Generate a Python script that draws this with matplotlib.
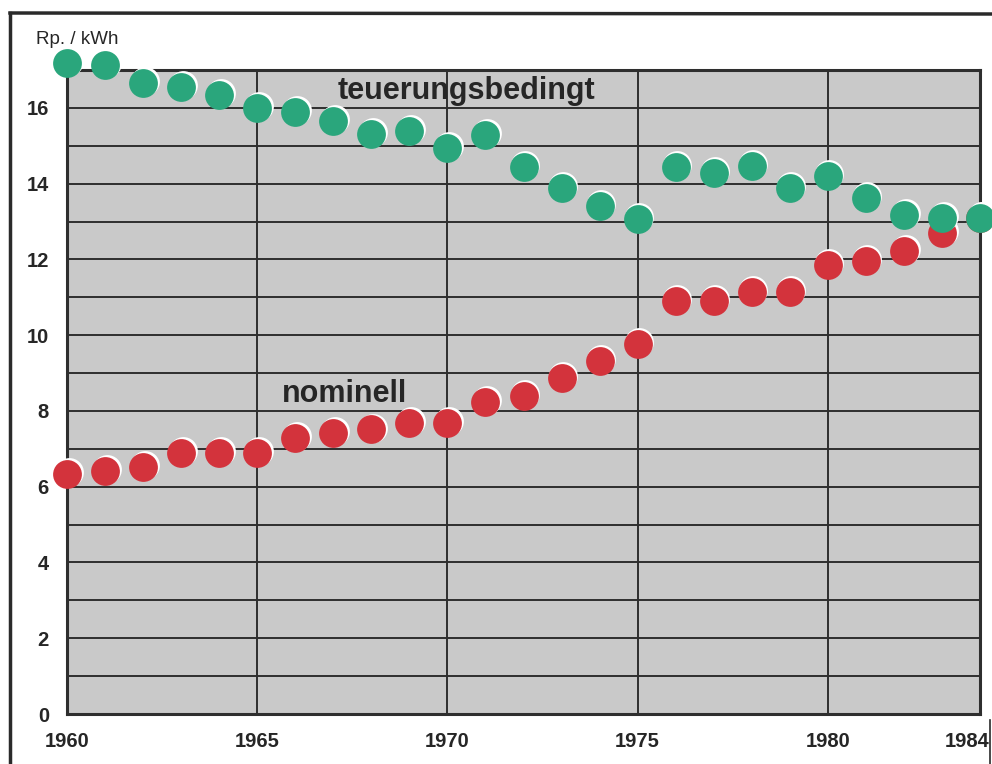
import matplotlib
matplotlib.use("Agg")
import matplotlib.pyplot as plt
import matplotlib.transforms as mtransforms
from matplotlib.lines import Line2D

years = list(range(1960, 1985))
teuerungsbedingt = [17.19, 17.13, 16.66, 16.55, 16.34, 16.00, 15.89, 15.66, 15.31, 15.39,
                    14.94, 15.29, 14.44, 13.89, 13.41, 13.07, 14.44, 14.28, 14.47, 13.89,
                    14.20, 13.62, 13.17, 13.10, 13.10]
nominell = [6.34, 6.42, 6.52, 6.89, 6.89, 6.89, 7.29, 7.42, 7.52, 7.68,
            7.68, 8.24, 8.40, 8.87, 9.32, 9.77, 10.90, 10.90, 11.14, 11.14,
            11.85, 11.96, 12.22, 12.70, 13.10]
xtick_vals = [1960, 1965, 1970, 1975, 1980, 1984]
xtick_labels = ["1960", "1965", "1970", "1975", "1980", "1984"]
ytick_vals = [0, 2, 4, 6, 8, 10, 12, 14, 16]
ytick_labels = ["0", "2", "4", "6", "8", "10", "12", "14", "16"]
unit_label = "Rp. / kWh"
label_teuer = "teuerungsbedingt"
label_nom = "nominell"

GREEN = "#2aa67c"
RED = "#d3333c"
BG = "#c9c9c9"
GRID = "#2e2e2e"
TXT = "#262626"

plt.rcParams['font.family'] = ['Liberation Sans', 'DejaVu Sans']

fig = plt.figure(figsize=(9.92, 7.64), dpi=100)
fig.patch.set_facecolor("white")
W, H = 992, 764
ax = fig.add_axes([67 / W, (H - 714) / H, (980 - 67) / W, (714 - 70) / H])
ax.set_facecolor(BG)
ax.set_xlim(1960, 1984)
ax.set_ylim(0, 17)

# grid
for yv in range(1, 17):
    ax.axhline(yv, color=GRID, lw=1.4, zorder=1)
for xv in [1965, 1970, 1975, 1980]:
    ax.axvline(xv, color=GRID, lw=1.4, zorder=1)
for sp in ax.spines.values():
    sp.set_color(GRID)
    sp.set_linewidth(2.2)

# markers with white highlight rim offset up-right
off = mtransforms.offset_copy(ax.transData, fig=fig, x=1.6, y=1.6, units='dots')
ms = 430
ax.scatter(years, nominell, s=ms, color="white", transform=off, zorder=3, clip_on=False, linewidths=0)
ax.scatter(years, nominell, s=ms, color=RED, zorder=4, clip_on=False, linewidths=0)
ax.scatter(years, teuerungsbedingt, s=ms, color="white", transform=off, zorder=5, clip_on=False, linewidths=0)
ax.scatter(years, teuerungsbedingt, s=ms, color=GREEN, zorder=6, clip_on=False, linewidths=0)

# ticks
ax.set_xticks(xtick_vals)
ax.set_xticklabels(xtick_labels, fontsize=14.5, fontweight='bold', color=TXT)
ax.set_yticks(ytick_vals)
ax.set_yticklabels(ytick_labels, fontsize=14.5, fontweight='bold', color=TXT)
ax.tick_params(axis='x', length=0, pad=13)
ax.tick_params(axis='y', length=0, pad=13)
last = ax.get_xticklabels()[-1]
last.set_transform(last.get_transform() + mtransforms.ScaledTranslation(-13 / 100, 0, fig.dpi_scale_trans))

# series labels
ax.text(1970.5, 16.45, label_teuer, fontsize=22, fontweight='bold', color=TXT,
        ha='center', va='center', zorder=7)
ax.text(1967.3, 8.45, label_nom, fontsize=22, fontweight='bold', color=TXT,
        ha='center', va='center', zorder=7)

# unit label
fig.text(36 / W, 1 - 40 / H, unit_label, fontsize=13.5, color=TXT, ha='left', va='center')

# outer frame
fig.add_artist(Line2D([10 / W, 10 / W], [0, 1 - 13 / H], color="#2a2a2a", lw=2.5, transform=fig.transFigure))
fig.add_artist(Line2D([10 / W, 1], [1 - 13 / H, 1 - 14 / H], color="#2a2a2a", lw=2.5, transform=fig.transFigure))
fig.add_artist(Line2D([990 / W, 990 / W], [0, 1 - 720 / H], color="#2a2a2a", lw=1.2, transform=fig.transFigure))

fig.savefig("out.png", dpi=100, facecolor="white")
